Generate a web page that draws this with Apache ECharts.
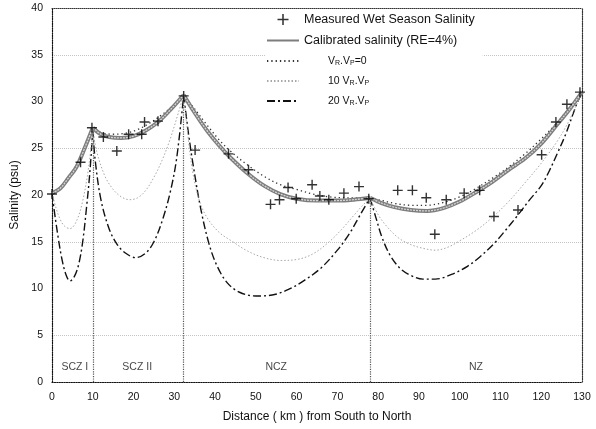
<!DOCTYPE html>
<html>
<head>
<meta charset="utf-8">
<script src="https://cdn.jsdelivr.net/npm/echarts@6/dist/echarts.min.js"></script>
<style>
html,body{margin:0;padding:0;background:#fff;}
#chart{width:596px;height:429px;}
</style>
</head>
<body>
<div id="chart"></div>
<script>
// ---------- data ----------
var xTicks = [0, 130, 10];   // min, max, interval
var yTicks = [0, 40, 5];

var measured = [
  [0,20.1],[7,23.5],[9.8,27.2],[12.6,26.2],[15.9,24.7],[18.8,26.5],[22,26.5],[22.7,27.8],
  [26,27.9],[32.3,30.6],[35.1,24.8],[43.3,24.4],[48.2,22.7],[53.6,19.0],[55.8,19.5],
  [57.9,20.8],[59.9,19.6],[63.8,21.1],[65.7,19.9],[67.9,19.5],[71.6,20.2],[75.3,20.9],
  [77.7,19.6],[84.8,20.5],[88.4,20.5],[91.8,19.7],[93.9,15.8],[96.7,19.5],[101.1,20.2],
  [104.9,20.5],[108.4,17.7],[114.3,18.4],[120.1,24.3],[123.6,27.8],[126.3,29.7],[129.5,31.0]
];

var calibrated = [
  [0,20.2],[2,20.7],[4,21.8],[6,23.0],[8,25.0],[10,27.2],
  [10,27.2],[12,26.5],[14,26.2],[17,26.1],[20,26.3],[23,26.9],[26,27.8],[29,29.1],[32.3,30.7],
  [32.3,30.7],[35,28.8],[38,26.9],[41,25.3],[44,23.9],[48,22.3],[52,21.0],[56,20.1],[60,19.6],[65,19.4],[70,19.4],[74,19.5],[78,19.7],
  [78,19.7],[81,19.1],[84,18.7],[88,18.4],[92,18.3],[96,18.6],[100,19.3],[104,20.3],[108,21.4],[112,22.7],[116,23.9],[120,25.5],[124,27.6],[127,29.2],[130,31.0]
];

var vZero = [
  [0,20.3],[2,20.8],[4,21.9],[6,23.2],[8,25.1],[10,27.2],
  [10,27.2],[12,26.7],[15,26.5],[18,26.6],[21,27.0],[24,27.7],[27,28.6],[30,29.7],[32.3,30.7],
  [32.3,30.7],[35,29.2],[38,27.5],[41,25.9],[44,24.6],[48,23.2],[52,22.0],[56,21.1],[60,20.6],[64,20.1],[68,19.8],[72,19.7],[75,19.7],[78,19.7],
  [78,19.7],[81,19.4],[84,19.1],[88,18.9],[92,18.9],[96,19.2],[100,19.8],[104,20.7],[108,21.8],[112,23.0],[116,24.4],[120,26.0],[124,27.8],[127,29.4],[130,31.0]
];

var vTen = [
  [0,20.2],[1,18.6],[2,17.4],[3,16.7],[4.4,16.4],[6,17.2],[7.5,19.3],[9,23.0],[10,27.0],
  [10,27.0],[11,24.6],[13,22.0],[15,20.6],[17,19.8],[19,19.5],[21,19.7],[23,20.5],[25,21.9],[27,23.7],[29,26.0],[31,28.8],[32.3,30.7],
  [32.3,30.7],[33.3,26.5],[34.5,22.5],[36,19.6],[38,17.6],[41,16.0],[44,15.1],[48,14.0],[52,13.3],[56,13.0],[60,13.1],[64,13.7],[68,15.0],[71,16.3],[74,17.8],[76,18.8],[78,19.7],
  [78,19.7],[80,17.9],[82,16.7],[85,15.4],[88,14.7],[91,14.3],[94,14.1],[97,14.4],[100,15.1],[104,16.2],[108,17.6],[112,19.3],[116,21.3],[120,23.4],[124,25.8],[127,28.1],[130,31.0]
];

var vTwenty = [
  [0,20.2],[0.5,18.5],[1.5,15.5],[2.5,13.0],[3.5,11.4],[4.4,10.8],[5.5,11.3],[6.5,12.5],[7.5,14.9],[8.5,18.8],[9.3,22.5],[10,27.0],
  [10,27.0],[10.6,23.7],[12,19.5],[14,16.4],[16,14.7],[18,13.8],[20.5,13.3],[23,13.8],[25,15.0],[27,17.2],[29,20.3],[30.6,24.0],[32.3,30.7],
  [32.3,30.7],[33.5,26.5],[34.7,23.0],[36.5,18.5],[38.5,14.8],[40.5,12.4],[43,10.6],[46,9.6],[50,9.2],[54,9.3],[58,9.9],[62,10.9],[66,12.2],[70,14.1],[73,15.9],[75.5,17.8],[78,19.7],
  [78,19.7],[79.5,17.5],[81,15.4],[83,13.5],[85.5,12.1],[88,11.4],[91,11.0],[94,11.0],[98,11.5],[102,12.4],[105,13.4],[108.4,14.8],[111,16.1],[114,17.7],[117,19.4],[120,21.0],[122,22.6],[124,24.5],[126,26.5],[128.5,29.5],[130,31.0]
];

var boundaryX = [10, 32.3, 78];
var boundaryTop = [27.2, 30.7, 19.7];

var zoneNames = ['SCZ I', 'SCZ II', 'NCZ', 'NZ'];
var zoneLabelX = [5.6, 20.9, 55, 104];
var zoneLabelY = 1.6;

var seriesNames = [
  'Measured Wet Season Salinity',
  'Calibrated salinity (RE=4%)',
  'VR.VP=0',
  '10 VR.VP',
  '20 VR.VP'
];

// ---------- helpers ----------
// break the polyline where a zone-boundary point is repeated (keeps the cusps sharp)
function withBreaks(pts) {
  var out = [];
  for (var i = 0; i < pts.length; i++) {
    if (i > 0 && pts[i][0] === pts[i-1][0] && pts[i][1] === pts[i-1][1]) {
      out.push([pts[i][0], '-']);
    }
    out.push(pts[i]);
  }
  return out;
}

var plusPath = 'path://M4.3,0H5.7V4.3H10V5.7H5.7V10H4.3V5.7H0V4.3H4.3Z';

var boundaryLines = boundaryX.map(function (x, i) {
  return [{coord: [x, 0]}, {coord: [x, boundaryTop[i]]}];
});

var zoneData = zoneNames.map(function (n, i) {
  return {name: n, value: [zoneLabelX[i], zoneLabelY]};
});

var legendData = seriesNames.map(function (n, i) {
  return i === 0 ? {name: n} : {name: n, itemStyle: {opacity: 0}};
});

var font = 'Liberation Sans, Arial, sans-serif';

var chart = echarts.init(document.getElementById('chart'), null, {renderer: 'canvas'});

var option = {
  animation: false,
  backgroundColor: '#fff',
  textStyle: {fontFamily: font},
  grid: {left: 52, right: 14, top: 8, bottom: 47, containLabel: false},
  legend: {
    data: legendData,
    orient: 'vertical',
    left: 266,
    top: 11,
    itemWidth: 32,
    itemHeight: 11,
    itemGap: 8,
    backgroundColor: '#fff',
    padding: [2, 8, 4, 0],
    formatter: function (name) {
      if (name === seriesNames[2]) return '{lead|V}{sub|R}{s|.V}{sub|P}{s|=0}';
      if (name === seriesNames[3]) return '{lead|10 V}{sub|R}{s|.V}{sub|P}';
      if (name === seriesNames[4]) return '{lead|20 V}{sub|R}{s|.V}{sub|P}';
      return '{m|' + name + '}';
    },
    textStyle: {
      fontFamily: font,
      color: '#111',
      rich: {
        m: {fontSize: 12.5, fontFamily: font, color: '#111', lineHeight: 14},
        s: {fontSize: 10.5, fontFamily: font, color: '#111', lineHeight: 14},
        lead: {fontSize: 10.5, fontFamily: font, color: '#111', lineHeight: 14, padding: [0, 0, 0, 24]},
        sub: {fontSize: 7, fontFamily: font, color: '#111', lineHeight: 14, padding: [5, 0, 0, 0]}
      }
    }
  },
  xAxis: [{
    type: 'value',
    min: xTicks[0], max: xTicks[1], interval: xTicks[2],
    name: 'Distance ( km ) from South to North',
    nameLocation: 'middle',
    nameGap: 29,
    nameTextStyle: {fontFamily: font, fontSize: 12, color: '#111'},
    axisLine: {onZero: false, lineStyle: {color: '#111', type: 'dotted', width: 1.2}},
    axisTick: {show: false},
    axisLabel: {fontFamily: font, fontSize: 10.5, color: '#111', margin: 10},
    splitLine: {show: false}
  }, {
    type: 'value', position: 'top',
    min: xTicks[0], max: xTicks[1], interval: xTicks[2],
    axisLine: {onZero: false, lineStyle: {color: '#333', type: 'dotted', width: 1}},
    axisTick: {show: false}, axisLabel: {show: false}, splitLine: {show: false}
  }],
  yAxis: [{
    type: 'value',
    min: yTicks[0], max: yTicks[1], interval: yTicks[2],
    name: 'Salinity (psu)',
    nameLocation: 'middle',
    nameGap: 28,
    nameTextStyle: {fontFamily: font, fontSize: 12, color: '#111'},
    axisLine: {show: true, onZero: false, lineStyle: {color: '#111', type: 'dotted', width: 1.2}},
    axisTick: {show: false},
    axisLabel: {fontFamily: font, fontSize: 10.5, color: '#111', margin: 9},
    splitLine: {show: true, lineStyle: {color: ['rgba(0,0,0,0)', '#c4c4c4'], type: 'dotted', width: 1}}
  }, {
    type: 'value', position: 'right',
    min: yTicks[0], max: yTicks[1], interval: yTicks[2],
    axisLine: {show: true, onZero: false, lineStyle: {color: '#333', type: 'dotted', width: 1.2}},
    axisTick: {show: false}, axisLabel: {show: false}, splitLine: {show: false}
  }],
  series: [
    {
      name: 'boundaries', type: 'line', data: [], silent: true, symbol: 'none',
      markLine: {
        silent: true, symbol: 'none', label: {show: false},
        lineStyle: {color: '#555', type: 'dotted', width: 1.2},
        data: boundaryLines
      }
    },
    {
      name: seriesNames[4], type: 'line', data: withBreaks(vTwenty),
      showSymbol: false, symbol: 'none', smooth: 0.35, connectNulls: false,
      lineStyle: {color: '#111', width: 1.4, type: [8, 3, 2, 3]},
      itemStyle: {color: '#111'}, z: 3
    },
    {
      name: seriesNames[3], type: 'line', data: withBreaks(vTen),
      showSymbol: false, symbol: 'none', smooth: 0.35, connectNulls: false,
      lineStyle: {color: '#a8a8a8', width: 1, type: [1.5, 2]},
      itemStyle: {color: '#a8a8a8'}, z: 3
    },
    {
      name: seriesNames[2], type: 'line', data: withBreaks(vZero),
      showSymbol: false, symbol: 'none', smooth: 0.35, connectNulls: false,
      lineStyle: {color: '#333', width: 1.3, type: [1.3, 3]},
      itemStyle: {color: '#333'}, z: 4
    },
    {
      name: seriesNames[1], type: 'line', data: withBreaks(calibrated),
      showSymbol: false, symbol: 'none', smooth: 0.35, connectNulls: false,
      lineStyle: {color: '#7d7d7d', width: 4},
      itemStyle: {color: '#7d7d7d'}, z: 5
    },
    {
      name: 'calibrated-core', type: 'line', data: withBreaks(calibrated),
      showSymbol: false, symbol: 'none', smooth: 0.35, connectNulls: false, silent: true,
      lineStyle: {color: '#d6d6d6', width: 1.3, type: [2, 1]},
      z: 6
    },
    {
      name: seriesNames[0], type: 'scatter', data: measured,
      symbol: plusPath, symbolSize: 10,
      itemStyle: {color: '#000'}, z: 10
    },
    {
      name: 'zones', type: 'scatter', data: zoneData, symbolSize: 0, silent: true,
      label: {show: true, position: 'inside', formatter: '{b}', fontFamily: font, fontSize: 10.5, color: '#111'}
    }
  ]
};

chart.setOption(option);
</script>
</body>
</html>
